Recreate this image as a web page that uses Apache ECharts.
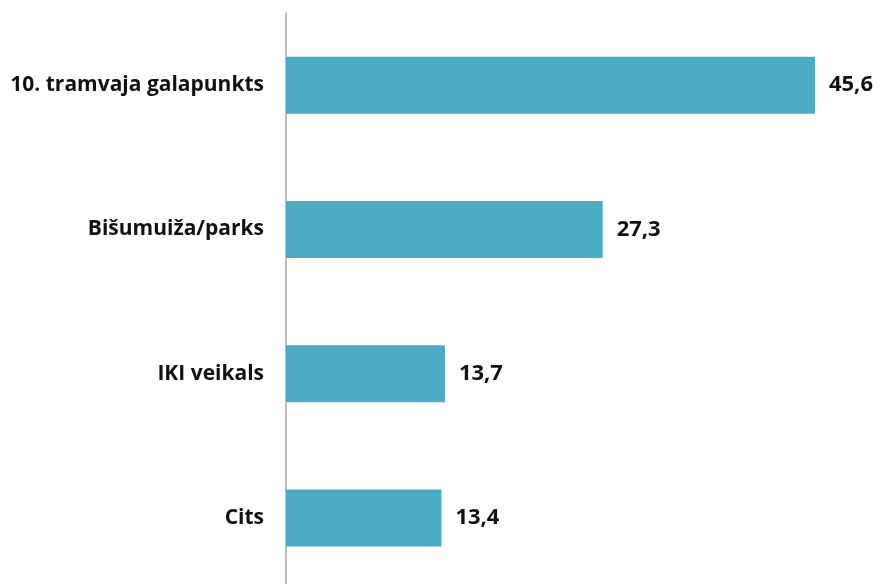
<!DOCTYPE html>
<html>
<head>
<meta charset="utf-8">
<script src="https://cdn.jsdelivr.net/npm/echarts@6/dist/echarts.min.js"></script>
<style>
html, body { margin: 0; padding: 0; background: #fff; }
#chart { width: 880px; height: 584px; }
</style>
</head>
<body>
<div id="chart"></div>
<script>
const categories = ['10. tramvaja galapunkts', 'Bišumuiža/parks', 'IKI veikals', 'Cits']
const values = [45.6, 27.3, 13.7, 13.4]

const chart = echarts.init(document.getElementById('chart'))

const labelFont = {
  fontFamily: 'Open Sans',
  fontWeight: 'bold',
  color: '#111',
}

chart.setOption({
  animation: false,
  grid: {
    left: 286,
    top: 13,
    width: 580,
    height: 577,
    outerBoundsMode: 'none',
    containLabel: false,
  },
  xAxis: {
    type: 'value',
    min: 0,
    max: 50,
    show: false,
  },
  yAxis: {
    type: 'category',
    inverse: true,
    data: categories,
    axisLine: { show: true, lineStyle: { color: '#a6a6a6', width: 1.5 } },
    axisTick: { show: false },
    axisLabel: { ...labelFont, fontSize: 21, margin: 22 },
    splitLine: { show: false },
  },
  series: [
    {
      type: 'bar',
      data: values,
      barWidth: 57,
      itemStyle: { color: '#4aacc6' },
      label: {
        show: true,
        position: 'right',
        distance: 14,
        ...labelFont,
        fontSize: 22,
        formatter: (p) => p.value.toFixed(1).replace('.', ','),
      },
    },
  ],
})
</script>
</body>
</html>
